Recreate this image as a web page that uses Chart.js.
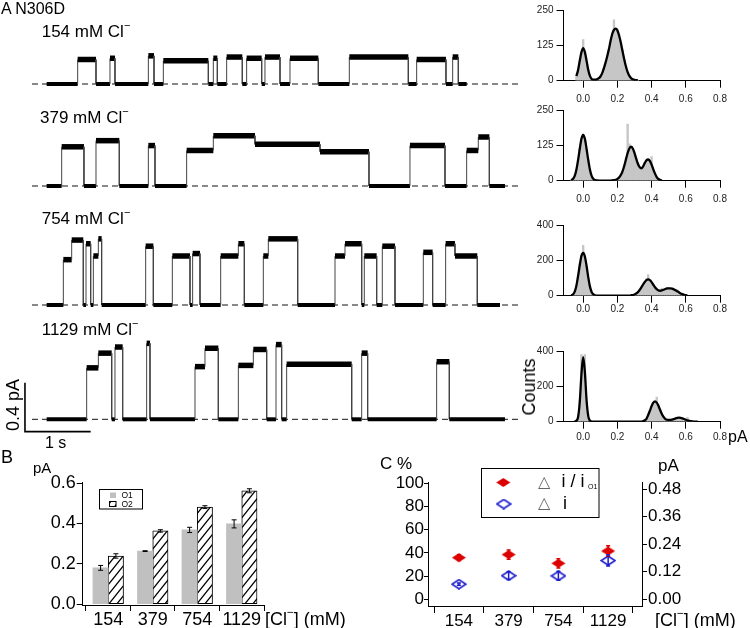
<!DOCTYPE html>
<html>
<head>
<meta charset="utf-8">
<title>N306D</title>
<script src="https://cdn.jsdelivr.net/npm/chart.js@4/dist/chart.umd.min.js"></script>
<style>
  body { margin: 0; background: #fff; }
  #fig { position: relative; width: 750px; height: 628px; overflow: hidden; font-family: "Liberation Sans", Arial, sans-serif; color: #000; }
  #fig canvas { position: absolute; }
  .t { position: absolute; white-space: nowrap; line-height: 1; }
  .t sup { font-size: 0.65em; vertical-align: baseline; position: relative; top: -0.75em; }
  .rot { transform: translate(-50%, -50%) rotate(-90deg); }
</style>
</head>
<body>
<div id="fig">
  <canvas id="traces" width="530" height="440" style="left:0px;top:0px"></canvas>
  <canvas id="h1" width="220" height="105" style="left:530px;top:0px"></canvas>
  <canvas id="h2" width="220" height="105" style="left:530px;top:100px"></canvas>
  <canvas id="h3" width="220" height="105" style="left:530px;top:214.7px"></canvas>
  <canvas id="h4" width="220" height="105" style="left:530px;top:340.7px"></canvas>
  <canvas id="barB" width="380" height="188" style="left:0px;top:440px"></canvas>
  <canvas id="scatC" width="370" height="188" style="left:380px;top:440px"></canvas>
</div>
<script>
// ---------------- data ----------------
// single channel traces: segment start times (s) and current level (pA) of each segment
const trace1Times = [0.223,0.695,0.974,1.187,1.263,1.771,1.857,1.999,2.684,2.760,2.821,2.963,3.201,3.267,3.496,3.546,3.775,3.927,4.358,4.830,5.728,5.855,6.301,6.403,6.489,6.616]
const trace1Levels = [0,0.20,0,0.21,0,0.23,0,0.19,0,0.21,0,0.22,0,0.21,0,0.22,0,0.21,0,0.22,0,0.20,0,0.22,0]
const trace2Times = [0.223,0.452,0.791,0.974,1.329,1.771,1.872,2.354,2.760,3.394,4.384,5.129,5.753,6.286,6.616,6.793,6.961,7.199]
const trace2Levels = [0,0.32,0,0.37,0,0.33,0,0.29,0.41,0.34,0.28,0,0.33,0,0.29,0.40,0]
const trace3Times = [0.223,0.477,0.604,0.781,0.822,0.893,0.934,1.010,1.060,1.730,1.847,2.136,2.405,2.445,2.557,2.872,3.141,3.232,3.521,3.597,4.044,4.612,4.764,5.018,5.058,5.246,5.332,5.525,5.956,6.098,6.296,6.438,6.778,7.123]
const trace3Levels = [0,0.37,0.53,0,0.50,0,0.40,0.54,0,0.48,0,0.40,0,0.42,0,0.40,0.50,0,0.40,0.54,0,0.40,0.50,0,0.40,0,0.48,0,0.43,0,0.50,0.40,0]
const trace4Times = [0.223,0.832,1.010,1.213,1.263,1.380,1.745,1.796,2.481,2.633,2.836,3.141,3.369,3.572,3.714,3.800,3.876,4.866,5.018,5.109,6.159,6.352,7.199]
const trace4Levels = [0,0.42,0.54,0,0.59,0,0.62,0,0.43,0.58,0,0.44,0.57,0,0.61,0,0.45,0,0.54,0,0.47,0]
const concNames = ['154 mM', '379 mM', '754 mM', '1129 mM']
const scaleBarCurrent = 0.4   // pA
const scaleBarTime = 1        // s

// amplitude histograms: bin centre (pA), counts, and the fitted curve
const hist1BinX = [-0.04,-0.03,-0.02,-0.01,0.00,0.01,0.02,0.03,0.04,0.05,0.06,0.07,0.08,0.09,0.10,0.11,0.12,0.13,0.14,0.15,0.16,0.17,0.18,0.19,0.20,0.21,0.22,0.23,0.24,0.25,0.26,0.27,0.28,0.29,0.30,0.31,0.32]
const hist1Counts = [14,40,72,98,145,104,66,38,15,6,3,3,5,9,15,24,44,60,88,108,138,168,215,182,176,163,132,108,74,52,28,18,8,5,3,1,1]
const hist1FitY = [16,37,70,101,115,101,70,37,16,6,4,4,5,8,14,25,42,62,85,110,140,165,180,184,178,160,135,105,76,50,30,17,9,5,3,2,1]

const hist2BinX = [-0.07,-0.06,-0.05,-0.04,-0.03,-0.02,-0.01,0.00,0.01,0.02,0.03,0.04,0.05,0.06,0.07,0.18,0.19,0.20,0.21,0.22,0.23,0.24,0.25,0.26,0.27,0.28,0.29,0.30,0.31,0.32,0.33,0.34,0.35,0.36,0.37,0.38,0.39,0.40,0.41,0.42,0.43,0.44,0.45]
const hist2Counts = [2,6,14,40,70,115,150,165,145,110,74,36,15,6,2,2,3,6,10,22,32,55,78,200,130,118,110,95,80,58,50,42,52,60,70,74,72,85,38,24,12,6,3]
const hist2FitX = [-0.07,-0.06,-0.05,-0.04,-0.03,-0.02,-0.01,0.00,0.01,0.02,0.03,0.04,0.05,0.06,0.07,0.08,0.10,0.15,0.17,0.18,0.19,0.20,0.21,0.22,0.23,0.24,0.25,0.26,0.27,0.28,0.29,0.30,0.31,0.32,0.33,0.34,0.35,0.36,0.37,0.38,0.39,0.40,0.41,0.42,0.43,0.44,0.45,0.46]
const hist2FitY = [2,6,16,38,72,112,148,162,148,112,72,38,16,6,2,1,0,0,1,2,3,6,11,20,33,52,75,98,114,120,114,98,78,60,48,44,50,62,72,75,70,57,40,25,13,6,3,1]

const hist3BinX = [-0.06,-0.05,-0.04,-0.03,-0.02,-0.01,0.00,0.01,0.02,0.03,0.04,0.05,0.06,0.07,0.30,0.31,0.32,0.33,0.34,0.35,0.36,0.37,0.38,0.39,0.40,0.41,0.42,0.43,0.44,0.45,0.46,0.47,0.48,0.49,0.50,0.51,0.52,0.53,0.54,0.55,0.56,0.57,0.58,0.59,0.60]
const hist3Counts = [5,20,50,105,180,230,285,215,160,95,45,18,6,2,6,12,18,30,45,62,80,95,120,85,72,58,44,38,30,32,42,35,36,40,48,40,38,34,28,35,18,12,8,5,3]
const hist3FitX = [-0.07,-0.06,-0.05,-0.04,-0.03,-0.02,-0.01,0.00,0.01,0.02,0.03,0.04,0.05,0.06,0.07,0.08,0.27,0.28,0.29,0.30,0.31,0.32,0.33,0.34,0.35,0.36,0.37,0.38,0.39,0.40,0.41,0.42,0.43,0.44,0.45,0.46,0.47,0.48,0.49,0.50,0.51,0.52,0.53,0.54,0.55,0.56,0.57,0.58,0.59,0.60,0.61]
const hist3FitY = [2,7,22,55,110,172,225,242,222,168,102,50,20,7,2,0,0,2,4,7,12,20,32,47,63,77,88,92,88,77,62,48,37,30,28,30,34,38,41,42,42,40,36,31,25,19,13,9,5,3,1]

const hist4BinX = [-0.03,-0.02,-0.01,0.00,0.01,0.02,0.03,0.04,0.37,0.38,0.39,0.40,0.41,0.42,0.43,0.44,0.45,0.46,0.47,0.48,0.49,0.50,0.51,0.52,0.53,0.54,0.55,0.56,0.57,0.58,0.59,0.60,0.61,0.62,0.63,0.64]
const hist4Counts = [20,120,380,370,380,110,25,5,15,35,60,85,100,112,140,95,70,45,28,15,12,10,12,14,16,20,24,22,20,24,14,12,25,6,4,2]
const hist4FitX = [-0.05,-0.04,-0.03,-0.02,-0.01,0.00,0.01,0.02,0.03,0.04,0.05,0.06,0.34,0.35,0.36,0.37,0.38,0.39,0.40,0.41,0.42,0.43,0.44,0.45,0.46,0.47,0.48,0.49,0.50,0.51,0.52,0.53,0.54,0.55,0.56,0.57,0.58,0.59,0.60,0.61,0.62,0.63,0.64,0.65,0.66,0.67]
const hist4FitY = [1,5,25,110,270,365,280,120,30,6,1,0,0,3,8,16,38,62,88,108,115,108,90,66,44,27,16,11,10,10,12,15,19,22,23,22,19,15,11,7,5,3,2,1,0,0]

const histXTicks = [0, 0.2, 0.4, 0.6, 0.8]
const hist12YTicks = [0, 125, 250]
const hist34YTicks = [0, 200, 400]

// panel B: mean current of the two open levels
const concLabels = ['154', '379', '754', '1129']
const o1Current = [0.180, 0.263, 0.368, 0.398]
const o1Err = [0.012, 0.002, 0.013, 0.020]
const o2Current = [0.239, 0.363, 0.481, 0.562]
const o2Err = [0.011, 0.006, 0.007, 0.010]
const bYTicks = [0, 0.2, 0.4, 0.6]

// panel C: difference between levels (% of O1, and pA)
const deltaRatio = [35.9, 38.5, 31.0, 41.6]
const deltaRatioErr = [2.5, 4.0, 4.0, 4.5]
const deltaCurrent = [0.066, 0.103, 0.102, 0.169]
const deltaCurrentErr = [0.005, 0.017, 0.019, 0.024]
const cLeftTicks = [0, 20, 40, 60, 80, 100]
const cRightTicks = [0, 0.12, 0.24, 0.36, 0.48]

// ---------------- setup ----------------
Chart.defaults.font.family = "'Liberation Sans', Arial, sans-serif"
Chart.defaults.color = '#000'
Chart.defaults.animation = false
Chart.defaults.events = []
Chart.defaults.plugins.legend.display = false
Chart.defaults.plugins.tooltip.enabled = false

const fig = document.getElementById('fig')

function fixTicks(list) {
    return function(scale) { scale.ticks = list.map(v => ({ value: v })) }
}

// two points per segment (start and end), so the dwell parts and the
// transitions are separate line segments that can be styled differently
function tracePoints(times, levels) {
    let pts = []
    levels.forEach((v, i) => {
        pts.push({ x: times[i], y: v })
        pts.push({ x: times[i + 1], y: v })
    })
    return pts
}

const errorBarPlugin = {
    id: 'errBars',
    afterDatasetsDraw(chart, args, opts) {
        const ctx = chart.ctx
        ;(opts.sets || []).forEach(s => {
            const meta = chart.getDatasetMeta(s.index)
            const yScale = chart.scales[meta.yAxisID]
            const vals = chart.data.datasets[s.index].data
            ctx.save()
            ctx.strokeStyle = s.color
            ctx.lineWidth = s.width
            meta.data.forEach((el, i) => {
                const v = typeof vals[i] === 'object' ? vals[i].y : vals[i]
                const top = yScale.getPixelForValue(v + s.err[i])
                const bot = yScale.getPixelForValue(v - s.err[i])
                ctx.beginPath()
                ctx.moveTo(el.x, top); ctx.lineTo(el.x, bot)
                ctx.moveTo(el.x - s.cap, top); ctx.lineTo(el.x + s.cap, top)
                ctx.moveTo(el.x - s.cap, bot); ctx.lineTo(el.x + s.cap, bot)
                ctx.stroke()
            })
            ctx.restore()
        })
    }
}

// ---------------- panel A: traces ----------------
const PX_PER_PA = 122.5
const traceBaselinePx = [84, 186, 305, 419.3]
const traceList = [
    [trace1Times, trace1Levels],
    [trace2Times, trace2Levels],
    [trace3Times, trace3Levels],
    [trace4Times, trace4Levels]
]
const traceScales = { x: { type: 'linear', display: false, min: -0.487, max: 7.58 } }
const traceDatasets = []
traceList.forEach((tr, k) => {
    const b = traceBaselinePx[k]
    traceScales['y' + k] = { type: 'linear', display: false, min: (b - 440) / PX_PER_PA, max: b / PX_PER_PA }
    traceDatasets.push({
        data: [{ x: 0, y: 0 }, { x: 7.428, y: 0 }], yAxisID: 'y' + k,
        borderColor: '#111', borderWidth: 1, borderDash: [6, 4], pointRadius: 0, order: 1
    })
    traceDatasets.push({
        data: tracePoints(tr[0], tr[1]), yAxisID: 'y' + k,
        borderColor: '#000', borderWidth: 3.5, pointRadius: 0, order: 0,
        borderCapStyle: 'butt',
        segment: {
            borderWidth: c => c.p0.parsed.y !== c.p1.parsed.y ? 1 : (c.p0.parsed.y === 0 ? 4 : 5.5),
            borderColor: c => c.p0.parsed.y !== c.p1.parsed.y ? '#444' : '#000'
        }
    })
})
// scale bar (0.4 pA / 1 s)
const sbT = -0.107, sbI = -0.101
traceDatasets.push({
    data: [{ x: sbT, y: sbI + scaleBarCurrent }, { x: sbT, y: sbI }, { x: sbT + scaleBarTime, y: sbI }],
    yAxisID: 'y3', borderColor: '#000', borderWidth: 1.6, pointRadius: 0, order: 0
})

new Chart(document.getElementById('traces'), {
    type: 'line',
    data: { datasets: traceDatasets },
    options: { responsive: false, layout: { padding: 0 }, scales: traceScales }
})

// ---------------- panel A: histograms ----------------
function makeHist(id, binX, counts, fitX, fitY, yTicks, labelPad) {
    new Chart(document.getElementById(id), {
        type: 'bar',
        data: {
            datasets: [
                {
                    type: 'line', data: fitX.map((x, i) => ({ x: x, y: fitY[i] })),
                    borderColor: '#000', borderWidth: 2.3, pointRadius: 0,
                    cubicInterpolationMode: 'monotone', order: 0
                },
                {
                    data: binX.map((x, i) => ({ x: x, y: counts[i] })),
                    backgroundColor: '#c6c6c6', barPercentage: 1, categoryPercentage: 1, order: 1
                }
            ]
        },
        options: {
            responsive: false,
            layout: { padding: { top: 10, right: 30, left: 0, bottom: 0 } },
            scales: {
                x: {
                    type: 'linear', min: -0.115, max: 0.8, offset: false,
                    afterBuildTicks: fixTicks(histXTicks),
                    afterFit: s => { s.height = 24.3 },
                    grid: { drawOnChartArea: false, tickLength: 7, color: '#000', offset: false },
                    border: { color: '#000', width: 1 },
                    ticks: { padding: labelPad, font: { size: 10 }, color: '#222', maxRotation: 0, autoSkip: false,
                        callback: v => v.toFixed(1) }
                },
                y: {
                    type: 'linear', min: 0, max: yTicks[yTicks.length - 1],
                    afterBuildTicks: fixTicks(yTicks),
                    afterFit: s => { s.width = 33.5 },
                    grid: { drawOnChartArea: false, tickLength: 7, color: '#000' },
                    border: { color: '#000', width: 1 },
                    ticks: { padding: 3, font: { size: 10 }, color: '#222' }
                }
            }
        }
    })
}
makeHist('h1', hist1BinX, hist1Counts, hist1BinX, hist1FitY, hist12YTicks, 6)
makeHist('h2', hist2BinX, hist2Counts, hist2FitX, hist2FitY, hist12YTicks, 6)
makeHist('h3', hist3BinX, hist3Counts, hist3FitX, hist3FitY, hist34YTicks, 1)
makeHist('h4', hist4BinX, hist4Counts, hist4FitX, hist4FitY, hist34YTicks, 2.5)

// ---------------- panel B ----------------
const catPos = concLabels.map((c, i) => i + 1)
const catTicks = [0.5]
catPos.forEach(p => { catTicks.push(p); catTicks.push(p + 0.5) })

const bCanvas = document.getElementById('barB')
function hatchPattern(ctx) {
    const c = document.createElement('canvas')
    c.width = 8; c.height = 10
    const g = c.getContext('2d')
    g.fillStyle = '#fff'; g.fillRect(0, 0, 8, 10)
    g.strokeStyle = '#000'; g.lineWidth = 1.3
    g.beginPath()
    g.moveTo(0, 10); g.lineTo(8, 0)
    g.moveTo(-1, 1.25); g.lineTo(1, -1.25)
    g.moveTo(7, 11.25); g.lineTo(9, 8.75)
    g.stroke()
    return ctx.createPattern(c, 'repeat')
}
const hatch = hatchPattern(bCanvas.getContext('2d'))

const bLegendPlugin = {
    id: 'bLegend',
    afterDraw(chart) {
        const ctx = chart.ctx
        ctx.save()
        ctx.strokeStyle = '#000'; ctx.lineWidth = 1
        ctx.strokeRect(99.5, 49.5, 43, 19.5)
        ctx.fillStyle = '#c0c0c0'
        ctx.fillRect(110, 52.5, 6, 5.5)
        ctx.fillStyle = hatch
        ctx.fillRect(109.5, 61.5, 6.5, 5)
        ctx.strokeRect(109.5, 61.5, 6.5, 5)
        ctx.fillStyle = '#000'
        ctx.font = "8.5px 'Liberation Sans', Arial"
        ctx.textBaseline = 'middle'
        ctx.fillText('O1', 121.5, 55.5)
        ctx.fillText('O2', 121.5, 64.5)
        ctx.restore()
    }
}

new Chart(bCanvas, {
    type: 'bar',
    data: {
        datasets: [
            { label: 'O1', data: catPos.map((p, i) => ({ x: p, y: o1Current[i] })), backgroundColor: '#c0c0c0',
              barThickness: 15.3 },
            { label: 'O2', data: catPos.map((p, i) => ({ x: p, y: o2Current[i] })), backgroundColor: hatch,
              borderColor: '#000', borderWidth: 1, borderSkipped: false, barThickness: 15.3 }
        ]
    },
    plugins: [errorBarPlugin, bLegendPlugin],
    options: {
        responsive: false,
        layout: { padding: { top: 42.3, right: 116, left: 0, bottom: 0 } },
        plugins: {
            errBars: { sets: [
                { index: 0, err: o1Err, color: '#000', width: 1, cap: 2.5 },
                { index: 1, err: o2Err, color: '#000', width: 1, cap: 2.5 }
            ] }
        },
        scales: {
            x: {
                type: 'linear', min: 0.426, max: 4.5, offset: false,
                afterBuildTicks: fixTicks(catTicks),
                afterFit: s => { s.height = 23 },
                grid: { drawOnChartArea: false, offset: false, tickLength: 6,
                    color: c => (c.tick && Number.isInteger(c.tick.value)) ? 'rgba(0,0,0,0)' : '#000' },
                border: { color: '#000', width: 1 },
                ticks: { padding: 0, font: { size: 18, lineHeight: 1 }, maxRotation: 0, autoSkip: false,
                    callback: v => Number.isInteger(v) ? concLabels[v - 1] : '' }
            },
            y: {
                type: 'linear', min: -0.004, max: 0.604,
                afterBuildTicks: fixTicks(bYTicks),
                afterFit: s => { s.width = 82.7 },
                grid: { drawOnChartArea: false, tickLength: 6, color: '#000' },
                border: { color: '#000', width: 1 },
                ticks: { padding: 1, font: { size: 18, lineHeight: 1 }, callback: v => v.toFixed(1) }
            }
        }
    }
})

// ---------------- panel C ----------------
function diamond(w, h, fill, stroke, lw) {
    const c = document.createElement('canvas')
    c.width = w + 2; c.height = h + 2
    const g = c.getContext('2d')
    g.beginPath()
    g.moveTo(1 + w / 2, 1); g.lineTo(1 + w, 1 + h / 2); g.lineTo(1 + w / 2, 1 + h); g.lineTo(1, 1 + h / 2)
    g.closePath()
    if (fill) { g.fillStyle = fill; g.fill() }
    if (stroke) { g.strokeStyle = stroke; g.lineWidth = lw; g.stroke() }
    return c
}
const redColor = '#dd0000'
const blueColor = '#1a1acc'
const redDiamond = diamond(14, 9, redColor, null, 0)
const blueDiamond = diamond(14, 9, null, blueColor, 1.5)

const cLegendPlugin = {
    id: 'cLegend',
    afterDraw(chart) {
        const ctx = chart.ctx
        ctx.save()
        ctx.strokeStyle = '#000'; ctx.lineWidth = 1
        ctx.strokeRect(101.5, 28.5, 117.5, 49)
        ctx.drawImage(redDiamond, 123.3 - redDiamond.width / 2, 42.5 - redDiamond.height / 2)
        ctx.drawImage(blueDiamond, 123.7 - blueDiamond.width / 2, 64 - blueDiamond.height / 2)
        ctx.textBaseline = 'middle'
        ctx.fillStyle = '#666'
        ctx.font = "16px 'Liberation Sans', 'DejaVu Sans'"
        ctx.fillText('\u25B3', 158, 42.5)
        ctx.fillText('\u25B3', 158, 64)
        ctx.fillStyle = '#000'
        ctx.font = "18px 'Liberation Sans', Arial"
        ctx.fillText('i / i', 181.5, 42.5)
        ctx.fillText('i', 183, 64)
        ctx.font = "7px 'Liberation Sans', Arial"
        ctx.fillText('O1', 208, 47)
        ctx.restore()
    }
}

new Chart(document.getElementById('scatC'), {
    type: 'scatter',
    data: {
        datasets: [
            { label: 'di / iO1', data: catPos.map((p, i) => ({ x: p, y: deltaRatio[i] })), yAxisID: 'y',
              pointStyle: redDiamond, pointRadius: 7 },
            { label: 'di', data: catPos.map((p, i) => ({ x: p, y: deltaCurrent[i] })), yAxisID: 'y2',
              pointStyle: blueDiamond, pointRadius: 7 }
        ]
    },
    plugins: [errorBarPlugin, cLegendPlugin],
    options: {
        responsive: false,
        layout: { padding: { top: 42, right: 0, left: 0, bottom: 0 } },
        plugins: {
            errBars: { sets: [
                { index: 0, err: deltaRatioErr, color: redColor, width: 1.5, cap: 2 },
                { index: 1, err: deltaCurrentErr, color: blueColor, width: 1.5, cap: 2 }
            ] }
        },
        scales: {
            x: {
                type: 'linear', min: 0.379, max: 4.681,
                afterBuildTicks: fixTicks(catTicks),
                afterFit: s => { s.height = 22 },
                grid: { drawOnChartArea: false, tickLength: 7,
                    color: c => (c.tick && Number.isInteger(c.tick.value)) ? 'rgba(0,0,0,0)' : '#000' },
                border: { color: '#000', width: 1 },
                ticks: { padding: 0, font: { size: 17, lineHeight: 1 }, maxRotation: 0, autoSkip: false,
                    callback: v => Number.isInteger(v) ? concLabels[v - 1] : '' }
            },
            y: {
                type: 'linear', position: 'left', min: -5.8, max: 101.1,
                afterBuildTicks: fixTicks(cLeftTicks),
                afterFit: s => { s.width = 48 },
                grid: { drawOnChartArea: false, tickLength: 4, color: '#000' },
                border: { color: '#000', width: 1 },
                ticks: { padding: 0, font: { size: 17, lineHeight: 1 } }
            },
            y2: {
                type: 'linear', position: 'right', min: -0.0292, max: 0.5118,
                afterBuildTicks: fixTicks(cRightTicks),
                afterFit: s => { s.width = 108 },
                grid: { drawOnChartArea: false, tickLength: 5, color: '#000' },
                border: { color: '#000', width: 1 },
                ticks: { padding: 1, font: { size: 17, lineHeight: 1 }, callback: v => v.toFixed(2) }
            }
        }
    }
})

// ---------------- text labels ----------------
function addText(html, left, capTop, size) {
    let d = document.createElement('div')
    d.className = 't'
    d.innerHTML = html
    d.style.left = left + 'px'
    d.style.top = (capTop - 0.13 * size) + 'px'
    d.style.fontSize = size + 'px'
    fig.appendChild(d)
}
function addRotText(html, cx, cy, size) {
    let d = document.createElement('div')
    d.className = 't rot'
    d.innerHTML = html
    d.style.left = cx + 'px'
    d.style.top = cy + 'px'
    d.style.fontSize = size + 'px'
    fig.appendChild(d)
}

addText('A N306D', 1, 3.3, 16)
const concLabelPos = [[41.7, 25], [40, 111.5], [41.7, 212], [41.7, 323]]
concNames.forEach((c, i) => addText(c + ' Cl<sup>\u2212</sup>', concLabelPos[i][0], concLabelPos[i][1], 17))
addRotText('0.4 pA', 12.8, 405, 18)
addText('1 s', 45, 437, 16)
addRotText('Counts', 529, 387, 18)
addText('pA', 728, 431, 16)

addText('B', 1, 450, 18)
addText('pA', 33, 462, 15)
addText('[Cl<sup>\u2212</sup>] (mM)', 265, 612.5, 18)

addText('C %', 380, 457, 17)
addText('pA', 658, 459, 17)
addText('[Cl<sup>\u2212</sup>] (mM)', 655, 613, 18)
</script>
</body>
</html>
